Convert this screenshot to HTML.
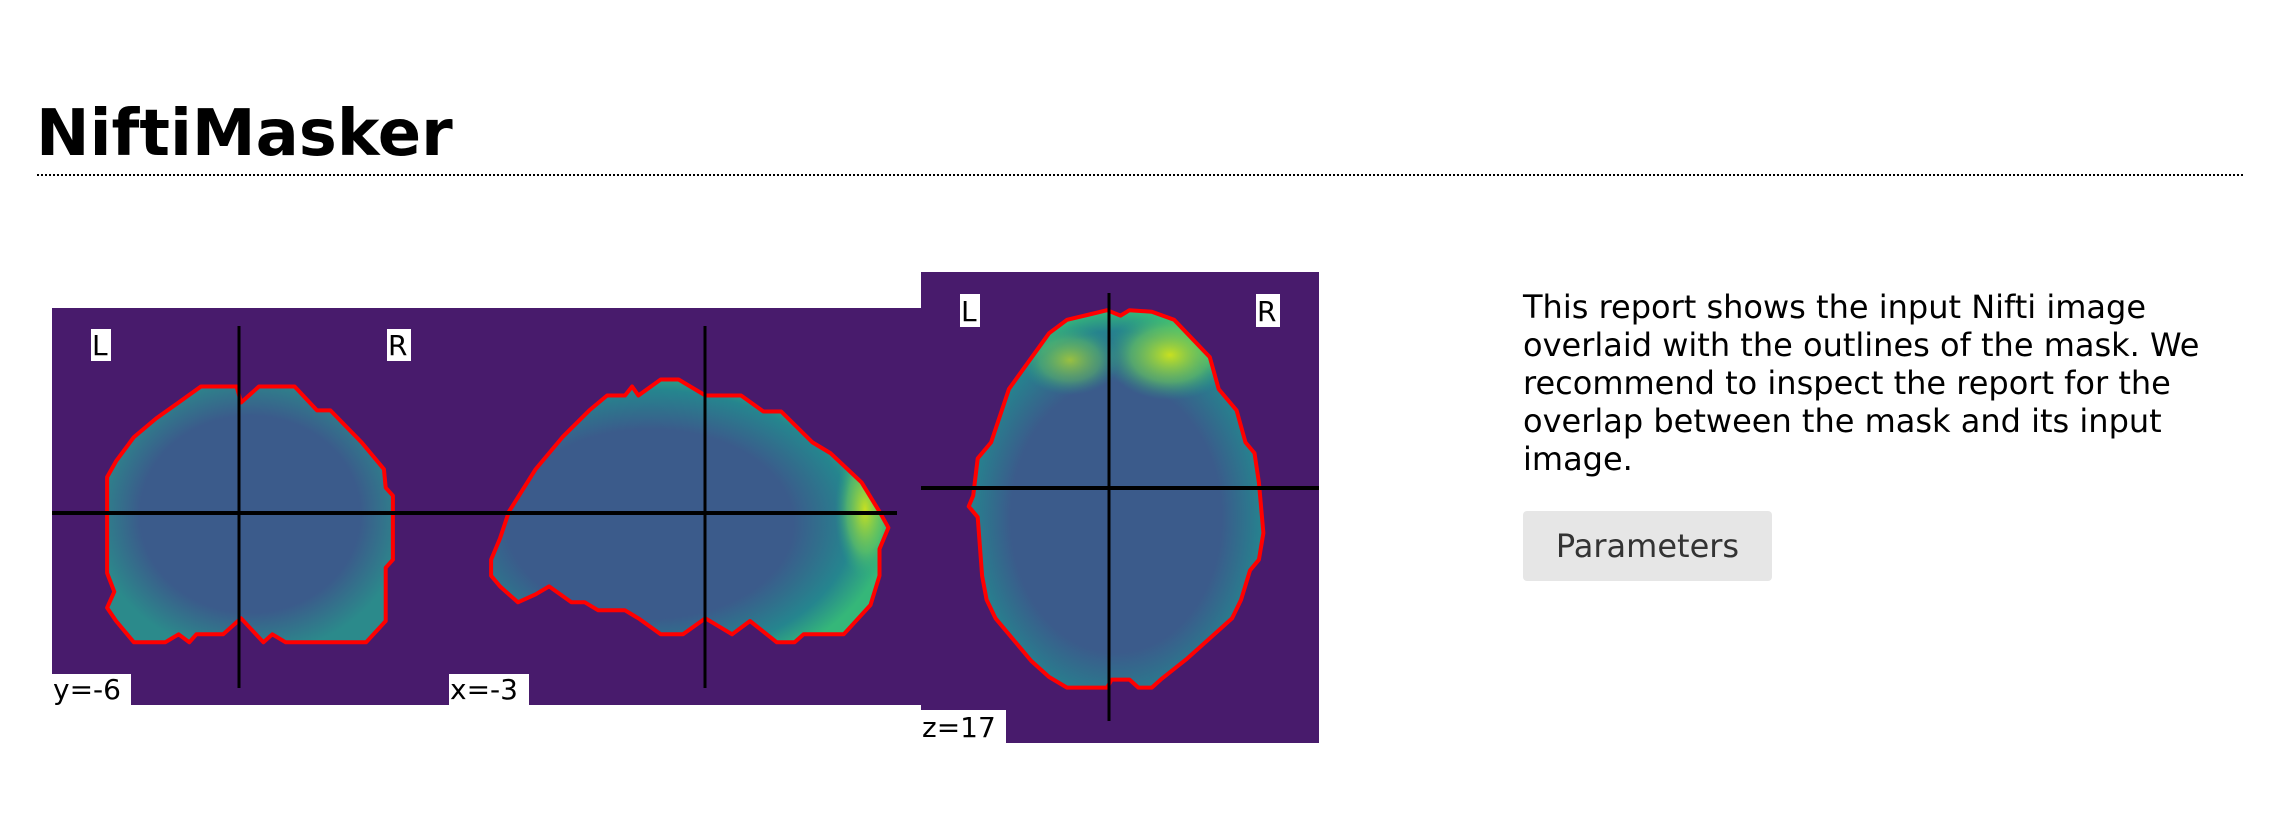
<!DOCTYPE html>
<html><head><meta charset="utf-8"><style>
body{margin:0;width:2270px;height:836px;background:#fff;overflow:hidden;font-family:"DejaVu Sans","Liberation Sans",sans-serif;position:relative}
#title{position:absolute;left:36px;top:96px;font-size:64px;font-weight:bold;margin:0;line-height:76px;color:#000}
#rule{position:absolute;left:37px;top:174px;width:2206px;border-top:2px dotted #000}
#desc{position:absolute;left:1523px;top:288px;width:680px;font-size:32px;line-height:38px;color:#000;margin:0}
#btn{position:absolute;left:1523px;top:511px;width:249px;height:70px;background:#e6e6e6;border:none;border-radius:4px;font-family:"DejaVu Sans",sans-serif;font-size:32px;color:#333}
svg{position:absolute;left:0;top:0}
</style></head><body>
<h1 id="title">NiftiMasker</h1>
<div id="rule"></div>
<svg id="brain" width="2270" height="836">
<defs>
<radialGradient id="g1" cx="50%" cy="50%" r="55%"><stop offset="0.7" stop-color="#3b5b8b"/><stop offset="1" stop-color="#2b8a8b"/></radialGradient>
<radialGradient id="g2" cx="40%" cy="55%" r="60%"><stop offset="0.6" stop-color="#3b5b8b"/><stop offset="0.85" stop-color="#25858e"/><stop offset="1" stop-color="#35b779"/></radialGradient>
<radialGradient id="g3" cx="50%" cy="55%" r="55%"><stop offset="0.65" stop-color="#3b5b8b"/><stop offset="0.9" stop-color="#26828e"/><stop offset="1" stop-color="#35b779"/></radialGradient>
<radialGradient id="y1" cx="50%" cy="50%" r="50%"><stop offset="0" stop-color="#c8e020"/><stop offset="0.6" stop-color="#6ccd5a" stop-opacity="0.6"/><stop offset="1" stop-color="#22a884" stop-opacity="0"/></radialGradient>
</defs>
</svg>
<p id="desc">This report shows the input Nifti image overlaid with the outlines of the mask. We recommend to inspect the report for the overlap between the mask and its input image.</p>
<button id="btn">Parameters</button>
<script>
// panel frames [x, y, w, h]
const panels = [[52,308,397,397],[449,308,472,397],[921,272,398,471]];
const panelNames = ['coronal-panel','sagittal-panel','axial-panel'];
const coordLabels = ['y=-6','x=-3','z=17'];
// outline vertices in reference zoom space (x/1.12, y/1.876)
const outline1 = [[120,895],[130,865],[150,820],[175,785],[200,755],[225,725],[265,725],[270,755],[290,725],[330,725],[355,770],[370,770],[405,830],[430,880],[432,915],[440,930],[440,1050],[432,1065],[432,1165],[410,1205],[320,1205],[305,1190],[295,1205],[270,1160],[250,1190],[220,1190],[212,1205],[200,1190],[185,1205],[150,1205],[130,1165],[120,1140],[128,1110],[120,1075]];
const outline2 = [[550,1050],[560,1010],[570,960],[600,880],[630,820],[660,770],[680,742],[700,742],[708,725],[715,742],[740,712],[760,712],[790,742],[830,742],[855,772],[875,772],[910,830],[930,850],[965,905],[985,960],[995,990],[985,1030],[985,1080],[975,1135],[945,1190],[900,1190],[890,1205],[870,1205],[840,1165],[820,1190],[790,1160],[765,1190],[740,1190],[715,1160],[700,1145],[670,1145],[655,1130],[640,1130],[615,1100],[600,1115],[580,1130],[560,1100],[550,1080]];
const outline3 = [[1090,930],[1095,860],[1110,830],[1130,730],[1175,625],[1195,600],[1220,590],[1240,582],[1255,592],[1265,582],[1290,585],[1315,600],[1355,670],[1365,730],[1385,770],[1395,830],[1405,850],[1410,905],[1415,1000],[1410,1050],[1400,1070],[1390,1125],[1380,1160],[1330,1235],[1300,1275],[1290,1290],[1275,1290],[1265,1275],[1245,1275],[1240,1290],[1195,1290],[1175,1270],[1155,1240],[1115,1160],[1105,1125],[1100,1080],[1095,970],[1085,950]];
const crossV = [[239,326,688],[705,326,688],[1109,293,721]];
const crossH = [[513,52,897],[488,921,1319]];
const sx = v => v/1.12, sy = v => v/1.876;
const svg = document.getElementById('brain');
const NS='http://www.w3.org/2000/svg';
function mk(t,a){const e=document.createElementNS(NS,t);for(const k in a)e.setAttribute(k,a[k]);svg.appendChild(e);return e;}
panels.forEach((p,i)=>{
  const r=mk('rect',{x:p[0],y:p[1],width:p[2],height:p[3],fill:'#481b6c'});
  
  
});
const outs=[outline1,outline2,outline3];
outs.forEach((o,i)=>{
  const pts=o.map(q=>sx(q[0]).toFixed(1)+','+sy(q[1]).toFixed(1)).join(' ');
  const cp=document.createElementNS(NS,'clipPath');cp.setAttribute('id','c'+i);
  const pp=document.createElementNS(NS,'polygon');pp.setAttribute('points',pts);cp.appendChild(pp);
  svg.querySelector('defs').appendChild(cp);
  const f=mk('polygon',{points:pts,fill:'url(#g'+(i+1)+')'});
  
  
});
// bright frontal regions
const b1=mk('ellipse',{cx:865,cy:510,rx:30,ry:70,fill:'url(#y1)','clip-path':'url(#c1)'});


const b2=mk('ellipse',{cx:1170,cy:355,rx:65,ry:45,fill:'url(#y1)','clip-path':'url(#c2)'});


const b3=mk('ellipse',{cx:1070,cy:360,rx:50,ry:35,fill:'url(#y1)',opacity:0.7,'clip-path':'url(#c2)'});


outs.forEach((o,i)=>{
  const pts=o.map(q=>sx(q[0]).toFixed(1)+','+sy(q[1]).toFixed(1)).join(' ');
  const l=mk('polygon',{points:pts,fill:'none',stroke:'#ff0000','stroke-width':4,'stroke-linejoin':'round'});
  
  
});
crossV.forEach(c=>{
  const l=mk('line',{x1:c[0],x2:c[0],y1:c[1],y2:c[2],stroke:'#000','stroke-width':3});
  
  
});
crossH.forEach(c=>{
  const l=mk('line',{x1:c[1],x2:c[2],y1:c[0],y2:c[0],stroke:'#000','stroke-width':4});
  
  
});
function label(x,y,w,h,t,name){
  const r=mk('rect',{x:x,y:y,width:w,height:h,fill:'#fff'});
  
  
  const tx=mk('text',{x:x+1,y:y+h-6,'font-size':28,'font-family':'DejaVu Sans, Liberation Sans, sans-serif',fill:'#000'});
  tx.textContent=t;
  
  
}
label(91,329,20,32,'L','left-marker');
label(387,329,24,32,'R','right-marker');
label(960,294,20,33,'L','left-marker');
label(1256,294,24,33,'R','right-marker');
label(52,674,79,31,coordLabels[0],'coronal-coordinate');
label(449,674,80,31,coordLabels[1],'sagittal-coordinate');
label(921,710,85,33,coordLabels[2],'axial-coordinate');
</script>
</body></html>
